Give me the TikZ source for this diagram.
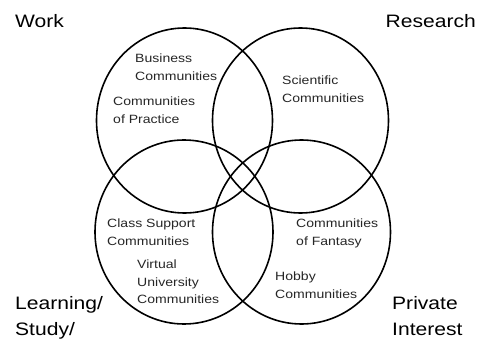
\documentclass[tikz,border=0pt]{standalone}
\usepackage{fontspec}
\setmainfont[FakeStretch=1.17]{Liberation Sans}
\begin{document}
\begin{tikzpicture}[x=1pt,y=-1pt,
  ring/.style={draw=black,line width=1.6pt},
  small/.style={inner sep=0pt,anchor=north west,align=left,text=black!85,
    font=\fontsize{12}{17.5}\selectfont},
  big/.style={inner sep=0pt,align=left,text=black,
    font=\fontsize{18}{26}\selectfont}]
\useasboundingbox (0,0) rectangle (480,340);
\draw[ring] (184.5,120.5) ellipse [x radius=88pt, y radius=92.5pt];
\draw[ring] (300.5,120.5) ellipse [x radius=88pt, y radius=92.5pt];
\draw[ring] (184,232) ellipse [x radius=89pt, y radius=92pt];
\draw[ring] (301.5,232) ellipse [x radius=89pt, y radius=92pt];

\node[small] (bus) at (135,54) {Business\\Communities};
\node[small] (cop) at (113,97) {Communities\\of Practice};
\node[small] (sci) at (282,76) {Scientific\\Communities};
\node[small] (cls) at (107,219) {Class Support\\Communities};
\node[small] (vir) at (137,260) {Virtual\\University\\Communities};
\node[small] (fan) at (296,219) {Communities\\of Fantasy};
\node[small] (hob) at (275,272) {Hobby\\Communities};

\node[big,anchor=north west] (work) at (15,14) {Work};
\node[big,anchor=north east] (res) at (476,14) {Research};
\node[big,anchor=north west] (lrn) at (15,296) {Learning/\\Study/};
\node[big,anchor=north west] (pri) at (392,296) {Private\\Interest};
\end{tikzpicture}
\end{document}
